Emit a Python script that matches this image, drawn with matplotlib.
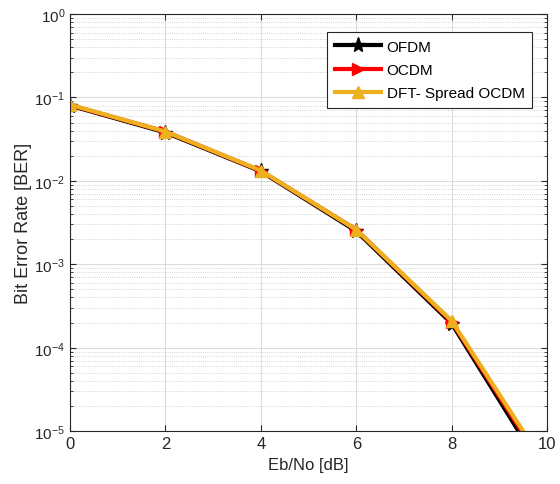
import matplotlib
matplotlib.use("Agg")
import matplotlib.pyplot as plt
from matplotlib.ticker import LogLocator, NullFormatter

plt.rcParams["font.family"] = ["Liberation Sans", "DejaVu Sans"]

ebno = [0, 2, 4, 6, 8, 10]
ber_ofdm = [0.080, 0.038, 0.0130, 0.0025, 1.95e-4, 2.8e-6]
ber_ocdm = [0.081, 0.039, 0.0132, 0.0026, 2.05e-4, 3.3e-6]
ber_dft = [0.082, 0.039, 0.0133, 0.0026, 2.1e-4, 3.6e-6]

fig = plt.figure(figsize=(5.6, 4.85), dpi=100)
ax = fig.add_axes([0.125, 0.109, 0.852, 0.86])

ax.semilogy(ebno, ber_ofdm, color="black", lw=3, marker="*", ms=11, label="OFDM")
ax.semilogy(ebno, ber_ocdm, color="red", lw=3, marker=">", ms=8, label="OCDM")
ax.semilogy(ebno, ber_dft, color="#EDB120", lw=3, marker="^", ms=8,
            label="DFT- Spread OCDM")

ax.set_xlim(0, 10)
ax.set_ylim(1e-5, 1)
ax.set_xticks([0, 2, 4, 6, 8, 10])
ax.yaxis.set_major_locator(LogLocator(base=10, numticks=10))
ax.yaxis.set_minor_locator(LogLocator(base=10, subs=range(2, 10), numticks=10))
ax.yaxis.set_minor_formatter(NullFormatter())

ax.grid(True, which="major", color="#dcdcdc", lw=0.8)
ax.grid(True, which="minor", axis="y", color="#c8c8c8", lw=0.6, ls=":")
ax.tick_params(which="both", direction="in", top=True, right=True,
               colors="#262626")
ax.tick_params(axis="x", labelsize=12)
ax.tick_params(axis="y", labelsize=11)
ax.tick_params(which="major", length=4)
ax.tick_params(which="minor", length=2.5)
for s in ax.spines.values():
    s.set_color("#262626")
    s.set_linewidth(0.8)

ax.set_xlabel("Eb/No [dB]", fontsize=12, color="#262626")
ax.set_ylabel("Bit Error Rate [BER]", fontsize=13, color="#262626")
ax.yaxis.set_label_coords(-0.08, 0.5)

leg = ax.legend(loc="upper right", bbox_to_anchor=(0.985, 0.975), fontsize=11,
                handlelength=3, fancybox=False, framealpha=1,
                edgecolor="#262626", borderpad=0.5, labelspacing=0.6,
                handletextpad=0.4)
leg.get_frame().set_linewidth(0.8)

fig.savefig("out.png", dpi=100)
